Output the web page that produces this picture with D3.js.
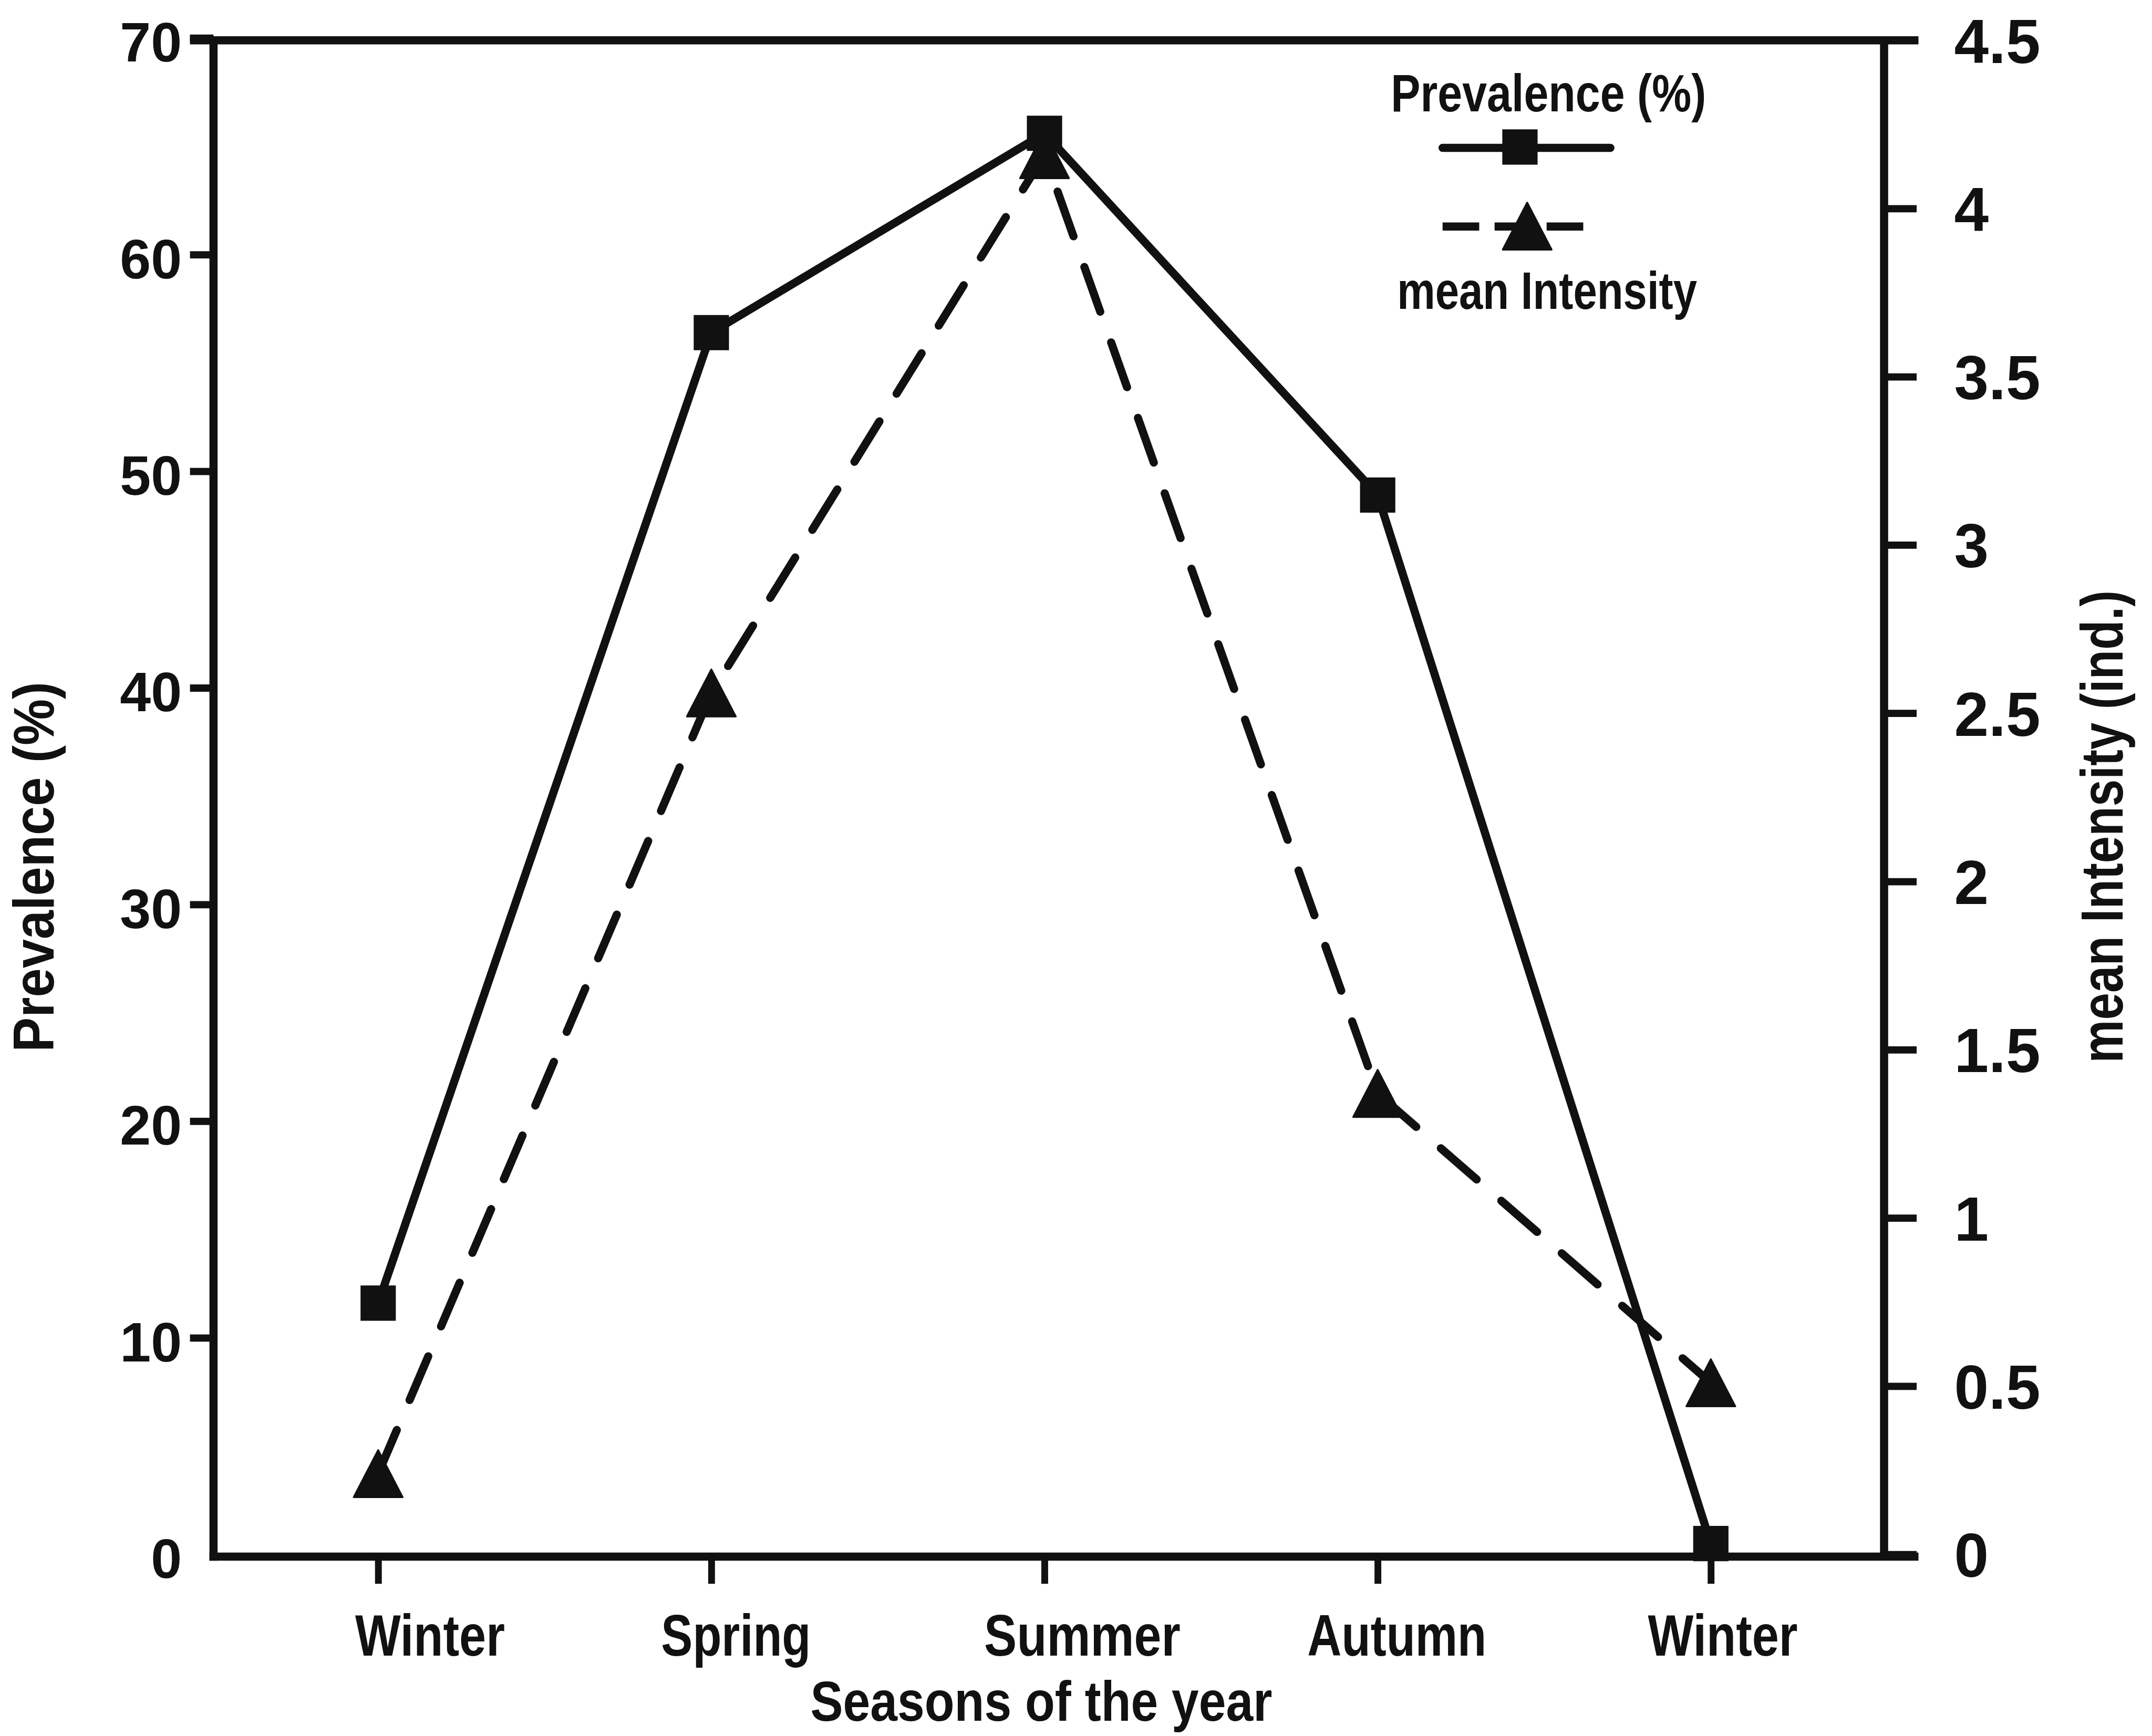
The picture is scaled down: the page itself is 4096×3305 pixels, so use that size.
<!DOCTYPE html>
<html>
<head>
<meta charset="utf-8">
<script src="https://cdn.jsdelivr.net/npm/d3@7"></script>
<style>
  html, body { margin: 0; padding: 0; background: #fff; }
  svg { display: block; }
  text { font-family: "Liberation Sans", Arial, Helvetica, sans-serif; font-weight: bold; fill: #111; }
</style>
</head>
<body>
<svg id="chart" width="4096" height="3305"></svg>
<script>
// Seasonal prevalence (%) and mean intensity (individuals per host)
const seasons = ["Winter", "Spring", "Summer", "Autumn", "Winter"];
const prevalence = [11.6, 56.4, 65.6, 48.9, 0.5];
const meanIntensity = [0.24, 2.56, 4.16, 1.37, 0.51];
const prevalenceTicks = [0, 10, 20, 30, 40, 50, 60, 70];
const intensityTicks = [0, 0.5, 1, 1.5, 2, 2.5, 3, 3.5, 4, 4.5];

const INK = "#111";
const svg = d3.select("#chart");
// everything is laid out in drawing units, then scaled to the page
const g = svg.append("g").attr("transform", "scale(0.861)");

const frame = { left: 472, right: 4165, top: 89, bottom: 3442, extent: 4241 };

const x = d3.scalePoint().domain(d3.range(seasons.length)).range([836, 3782]);
const yL = d3.scaleLinear().domain([0, 70]).range([3437, 84]);
const yR = d3.scaleLinear().domain([0, 4.5]).range([3437, 89]);

// ---- frame ----
const frameG = g.append("g").attr("stroke", INK).attr("stroke-width", 18);
frameG.append("line").attr("x1", frame.left).attr("x2", frame.left)
  .attr("y1", frame.top - 9).attr("y2", frame.bottom + 9);
frameG.append("line").attr("x1", frame.right).attr("x2", frame.right)
  .attr("y1", frame.top).attr("y2", frame.bottom);
frameG.append("line").attr("x1", 420).attr("x2", frame.extent)
  .attr("y1", frame.top).attr("y2", frame.top);
frameG.append("line").attr("x1", frame.left - 9).attr("x2", frame.extent)
  .attr("y1", frame.bottom).attr("y2", frame.bottom);

// ---- left axis: prevalence ----
const axL = g.append("g").attr("transform", `translate(${frame.left},0)`)
  .call(d3.axisLeft(yL).tickValues(prevalenceTicks).tickSize(52).tickPadding(18)
    .tickFormat(d3.format("d")));
axL.attr("font-size", 123);
axL.select(".domain").remove();
axL.selectAll(".tick line").attr("stroke", INK).attr("stroke-width", 16)
  .filter(d => d === 0).remove();
axL.selectAll(".tick text").attr("dy", "0.42em");

// ---- right axis: mean intensity ----
const axR = g.append("g").attr("transform", `translate(${frame.right},0)`)
  .call(d3.axisRight(yR).tickValues(intensityTicks).tickSize(72).tickPadding(83)
    .tickFormat(d => String(d)));
axR.attr("font-size", 137);
axR.select(".domain").remove();
axR.selectAll(".tick line").attr("stroke", INK).attr("stroke-width", 16);
axR.selectAll(".tick text").attr("dy", "0.36em");

// ---- bottom axis: seasons ----
const labelNudge = [114, 54, 83, 42, 26];
const labelWidth = [331, 331, 434, 396, 331];
const axB = g.append("g").attr("transform", `translate(0,${frame.bottom})`)
  .call(d3.axisBottom(x).tickSize(60).tickFormat(i => seasons[i]));
axB.attr("font-size", 130);
axB.select(".domain").remove();
axB.selectAll(".tick line").attr("stroke", INK).attr("stroke-width", 15);
axB.selectAll(".tick text")
  .attr("y", 219).attr("dy", 0)
  .attr("x", i => labelNudge[i])
  .attr("textLength", i => labelWidth[i])
  .attr("lengthAdjust", "spacingAndGlyphs");

// ---- axis titles ----
g.append("text")
  .attr("transform", "translate(2302,3805)")
  .attr("text-anchor", "middle").attr("font-size", 125)
  .attr("textLength", 1021).attr("lengthAdjust", "spacingAndGlyphs")
  .text("Seasons of the year");

g.append("text")
  .attr("transform", "translate(118,1917) rotate(-90)")
  .attr("text-anchor", "middle").attr("font-size", 128)
  .attr("textLength", 819).attr("lengthAdjust", "spacingAndGlyphs")
  .text("Prevalence (%)");

g.append("text")
  .attr("transform", "translate(4692,1828) rotate(-90)")
  .attr("text-anchor", "middle").attr("font-size", 131)
  .attr("textLength", 1045).attr("lengthAdjust", "spacingAndGlyphs")
  .text("mean Intensity (ind.)");

// ---- markers ----
const SQUARE = 78;
const TRI_W = 108, TRI_H = 104;
const squarePath = d3.symbol(d3.symbolSquare, SQUARE * SQUARE)();
const trianglePath = `M0,${-TRI_H / 2}L${TRI_W / 2},${TRI_H / 2}L${-TRI_W / 2},${TRI_H / 2}Z`;

// ---- series lines ----
const intensityLine = d3.line().x((d, i) => x(i)).y(d => yR(d));
const prevalenceLine = d3.line().x((d, i) => x(i)).y(d => yL(d));

g.append("path").datum(meanIntensity)
  .attr("d", intensityLine)
  .attr("fill", "none").attr("stroke", INK).attr("stroke-width", 18)
  .attr("stroke-dasharray", "105,72").attr("stroke-linecap", "round");

g.append("path").datum(prevalence)
  .attr("d", prevalenceLine)
  .attr("fill", "none").attr("stroke", INK).attr("stroke-width", 18)
  .attr("stroke-linejoin", "miter");

g.append("g").selectAll("path").data(meanIntensity).join("path")
  .attr("d", trianglePath)
  .attr("transform", (d, i) => `translate(${x(i)},${yR(d)})`)
  .attr("fill", INK).attr("stroke", INK).attr("stroke-width", 4).attr("stroke-linejoin", "round");

g.append("g").selectAll("path").data(prevalence).join("path")
  .attr("d", squarePath)
  .attr("transform", (d, i) => `translate(${x(i)},${yL(d)})`)
  .attr("fill", INK);

// ---- legend ----
const legend = g.append("g");
legend.append("text").attr("x", 3423).attr("y", 246)
  .attr("text-anchor", "middle").attr("font-size", 116)
  .attr("textLength", 697).attr("lengthAdjust", "spacingAndGlyphs")
  .text("Prevalence (%)");
legend.append("line").attr("x1", 3189).attr("x2", 3560).attr("y1", 327).attr("y2", 327)
  .attr("stroke", INK).attr("stroke-width", 18).attr("stroke-linecap", "round");
legend.append("path").attr("d", squarePath).attr("transform", "translate(3360,325)").attr("fill", INK);

legend.append("line").attr("x1", 3189).attr("x2", 3505).attr("y1", 501).attr("y2", 501)
  .attr("stroke", INK).attr("stroke-width", 18).attr("stroke-dasharray", "81,34");
legend.append("path").attr("d", trianglePath).attr("transform", "translate(3376,500)")
  .attr("fill", INK).attr("stroke", INK).attr("stroke-width", 4).attr("stroke-linejoin", "round");
legend.append("text").attr("x", 3420).attr("y", 683)
  .attr("text-anchor", "middle").attr("font-size", 116)
  .attr("textLength", 663).attr("lengthAdjust", "spacingAndGlyphs")
  .text("mean Intensity");
</script>
</body>
</html>
